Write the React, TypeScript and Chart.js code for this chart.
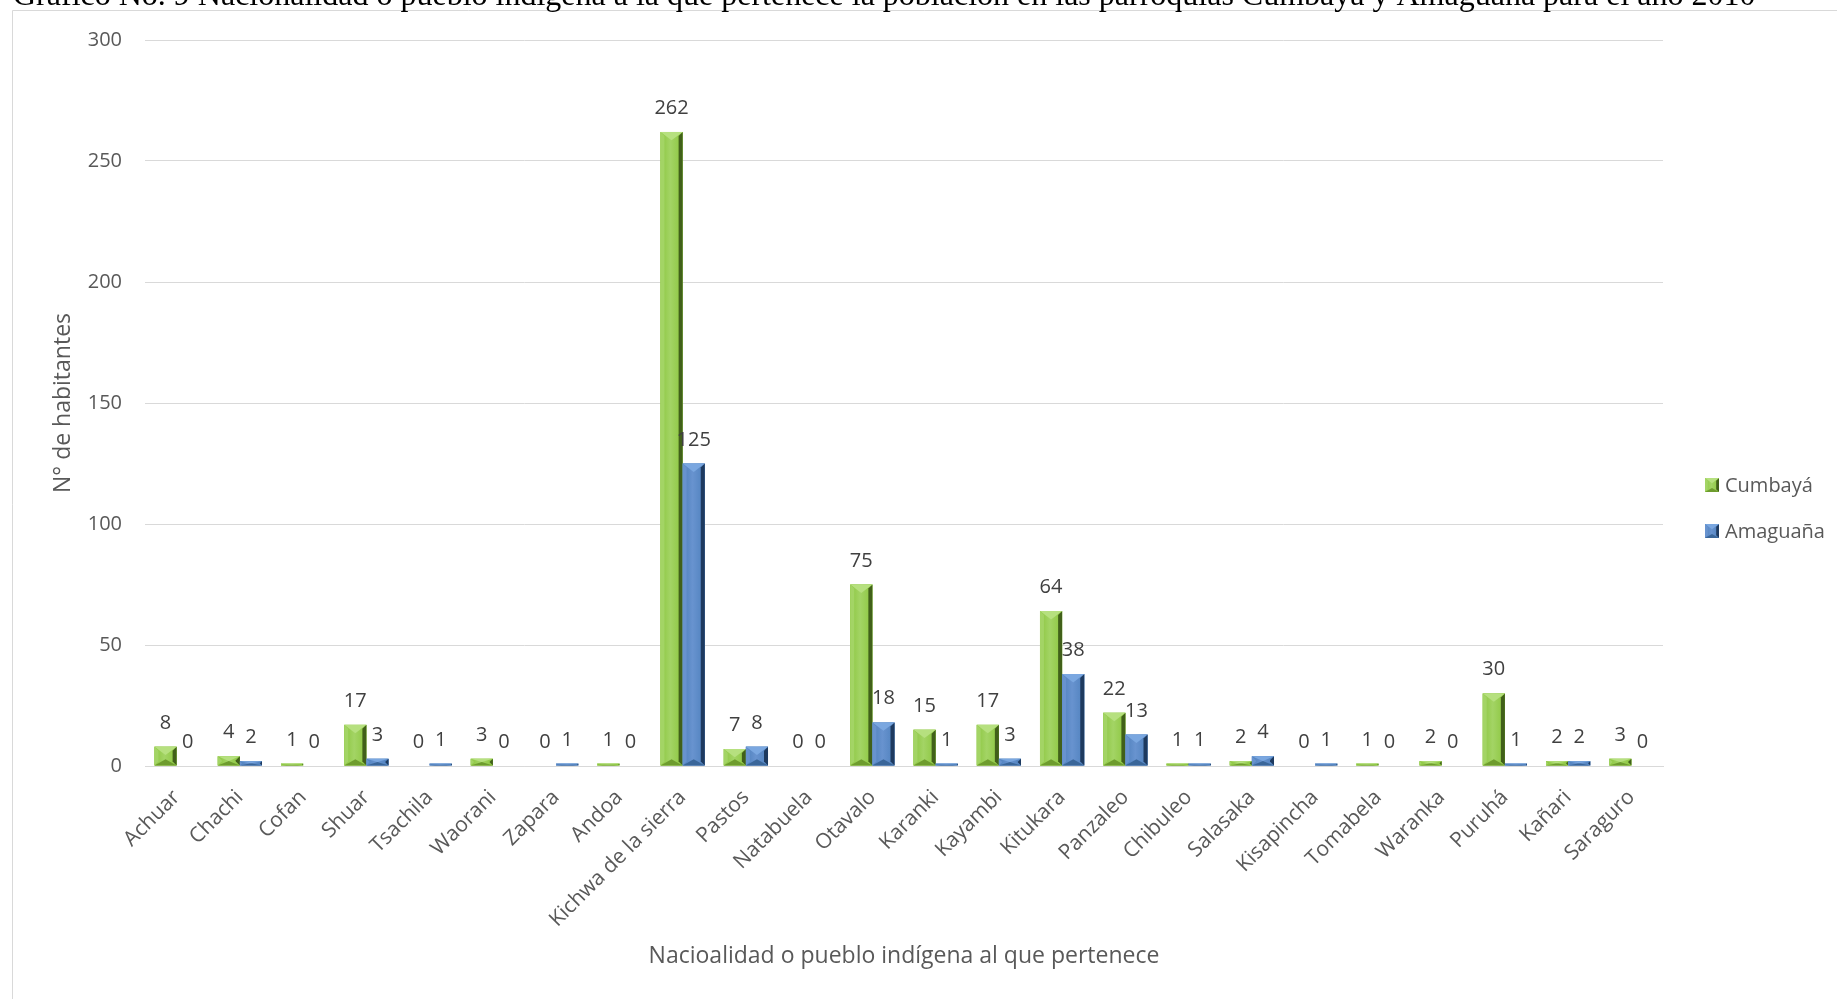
import React, { useEffect, useRef } from "react";
import { Chart, registerables } from "chart.js";

Chart.register(...registerables);

const chartTitle =
  "Gráfico No. 9 Nacionalidad o pueblo indígena a la que pertenece la población en las parroquias Cumbayá y Amaguaña para el año 2010";
const xAxisTitle = "Nacioalidad o pueblo indígena al que pertenece";
const yAxisTitle = "N° de habitantes";
const seriesNames = ["Cumbayá", "Amaguaña"];

const categories = [
  "Achuar", "Chachi", "Cofan", "Shuar", "Tsachila", "Waorani", "Zapara", "Andoa",
  "Kichwa de la sierra", "Pastos", "Natabuela", "Otavalo", "Karanki", "Kayambi",
  "Kitukara", "Panzaleo", "Chibuleo", "Salasaka", "Kisapincha", "Tomabela",
  "Waranka", "Puruhá", "Kañari", "Saraguro",
];
const cumbaya = [8, 4, 1, 17, 0, 3, 0, 1, 262, 7, 0, 75, 15, 17, 64, 22, 1, 2, 0, 1, 2, 30, 2, 3];
const amaguana = [0, 2, 0, 3, 1, 0, 1, 0, 125, 8, 0, 18, 1, 3, 38, 13, 1, 4, 1, 0, 0, 1, 2, 0];
const yTicks = [0, 50, 100, 150, 200, 250, 300];

const FONT = "'Open Sans', 'Noto Sans', sans-serif";
const TEXT = "#595959";
const LABEL = "#404040";

const palettes = [
  { main: "#8CC63F", light: "#A3D465", top: "#B6E07F", bottom: "#6E9C2E", dark: "#41601A" },
  { main: "#4F81BD", light: "#6893CF", top: "#7AA7E0", bottom: "#3A6699", dark: "#1E3A5F" },
];

type Pal = (typeof palettes)[number];

function poly(ctx: CanvasRenderingContext2D, pts: number[][], color: string) {
  ctx.beginPath();
  ctx.moveTo(pts[0][0], pts[0][1]);
  for (let i = 1; i < pts.length; i++) ctx.lineTo(pts[i][0], pts[i][1]);
  ctx.closePath();
  ctx.fillStyle = color;
  ctx.fill();
}

function bevel(ctx: CanvasRenderingContext2D, x0: number, x1: number, top: number, bottom: number, p: Pal) {
  const w = x1 - x0;
  const h = bottom - top;
  if (w <= 0 || h <= 0) return;
  const xc = (x0 + x1) / 2;
  ctx.save();
  const g = ctx.createLinearGradient(x0, 0, x1, 0);
  g.addColorStop(0, p.main);
  g.addColorStop(0.45, p.light);
  g.addColorStop(1, p.main);
  ctx.fillStyle = g;
  ctx.fillRect(x0, top, w, h);
  const s = Math.min(4, w / 5, h / 2);
  const td = Math.min(w * 0.38, h / 2);
  const bd = Math.min(w * 0.28, h / 2);
  poly(ctx, [[x0, top], [x0 + s, top + s], [x0 + s, bottom - s], [x0, bottom]], p.light);
  poly(ctx, [[x1, top], [x1 - s, top + s], [x1 - s, bottom - s], [x1, bottom]], p.dark);
  poly(ctx, [[x0, bottom], [x1, bottom], [xc, bottom - bd]], p.bottom);
  poly(ctx, [[x0, top], [x1, top], [xc, top + td]], p.top);
  ctx.restore();
}

const decorPlugin = {
  id: "decor",
  beforeDraw(chart: any) {
    const ctx = chart.ctx as CanvasRenderingContext2D;
    ctx.save();
    ctx.fillStyle = "#ffffff";
    ctx.fillRect(0, 0, chart.width, chart.height);
    ctx.strokeStyle = "#D9D9D9";
    ctx.lineWidth = 1;
    ctx.beginPath();
    ctx.moveTo(12.5, chart.height);
    ctx.lineTo(12.5, 10.5);
    ctx.lineTo(chart.width, 10.5);
    ctx.stroke();
    ctx.fillStyle = "#000000";
    ctx.font = "32px 'Liberation Serif', 'Times New Roman', serif";
    ctx.textAlign = "left";
    ctx.textBaseline = "alphabetic";
    ctx.fillText(chartTitle, 13, 5);
    ctx.restore();
  },
  afterDatasetsDraw(chart: any) {
    const ctx = chart.ctx as CanvasRenderingContext2D;
    chart.data.datasets.forEach((ds: any, di: number) => {
      const meta = chart.getDatasetMeta(di);
      meta.data.forEach((el: any, i: number) => {
        const { x, y, base, width } = el.getProps(["x", "y", "base", "width"], true);
        const x0 = x - width / 2;
        const x1 = x + width / 2;
        if (base - y > 0.5) bevel(ctx, x0, x1, y, base, palettes[di]);
        ctx.save();
        ctx.fillStyle = LABEL;
        ctx.font = `20px ${FONT}`;
        ctx.textAlign = "center";
        ctx.textBaseline = "alphabetic";
        ctx.fillText(String(ds.data[i]), x, y - 18);
        ctx.restore();
      });
    });
  },
  afterDraw(chart: any) {
    const ctx = chart.ctx as CanvasRenderingContext2D;
    const area = chart.chartArea;
    ctx.save();
    ctx.font = `23px ${FONT}`;
    ctx.fillStyle = TEXT;
    ctx.textAlign = "center";
    ctx.textBaseline = "middle";
    ctx.fillText(xAxisTitle, (area.left + area.right) / 2, 956);
    // legend
    ctx.font = `20px ${FONT}`;
    ctx.textAlign = "left";
    const ys = [485, 531];
    seriesNames.forEach((name, i) => {
      bevel(ctx, 1705, 1719, ys[i] - 7, ys[i] + 7, palettes[i]);
      ctx.fillStyle = TEXT;
      ctx.fillText(name, 1725, ys[i] + 1);
    });
    ctx.restore();
  },
};

export default function App() {
  const ref = useRef<HTMLCanvasElement | null>(null);
  useEffect(() => {
    if (!ref.current) return;
    const chart = new Chart(ref.current, {
      type: "bar",
      data: {
        labels: categories,
        datasets: [
          { label: seriesNames[0], data: cumbaya, backgroundColor: palettes[0].main, borderWidth: 0 },
          { label: seriesNames[1], data: amaguana, backgroundColor: palettes[1].main, borderWidth: 0 },
        ],
      },
      options: {
        animation: false,
        responsive: false,
        devicePixelRatio: 1,
        layout: { padding: { left: 50, right: 174, top: 40, bottom: 33 } },
        datasets: { bar: { categoryPercentage: 0.7, barPercentage: 1 } },
        plugins: { legend: { display: false }, tooltip: { enabled: false }, title: { display: false } },
        scales: {
          x: {
            grid: { display: false, drawTicks: false },
            border: { display: true, color: "#D9D9D9" },
            ticks: {
              autoSkip: false,
              maxRotation: 45,
              minRotation: 45,
              padding: 19,
              color: TEXT,
              font: { family: FONT, size: 21 },
            },
            afterFit: (s: any) => {
              s.height = 200;
            },
          },
          y: {
            min: 0,
            max: 300,
            afterBuildTicks: (s: any) => {
              s.ticks = yTicks.map((v) => ({ value: v }));
            },
            grid: { color: "#D9D9D9", drawTicks: false },
            border: { display: false },
            ticks: { padding: 23, color: TEXT, font: { family: FONT, size: 20 } },
            title: { display: true, text: yAxisTitle, color: TEXT, font: { family: FONT, size: 23 }, padding: 0 },
            afterFit: (s: any) => {
              s.width = 95;
            },
          },
        },
      } as any,
      plugins: [decorPlugin],
    });
    return () => chart.destroy();
  }, []);
  return (
    <div style={{ position: "absolute", left: 0, top: 0, width: 1837, height: 999 }}>
      <canvas ref={ref} width={1837} height={999} style={{ display: "block", width: 1837, height: 999 }} />
    </div>
  );
}
